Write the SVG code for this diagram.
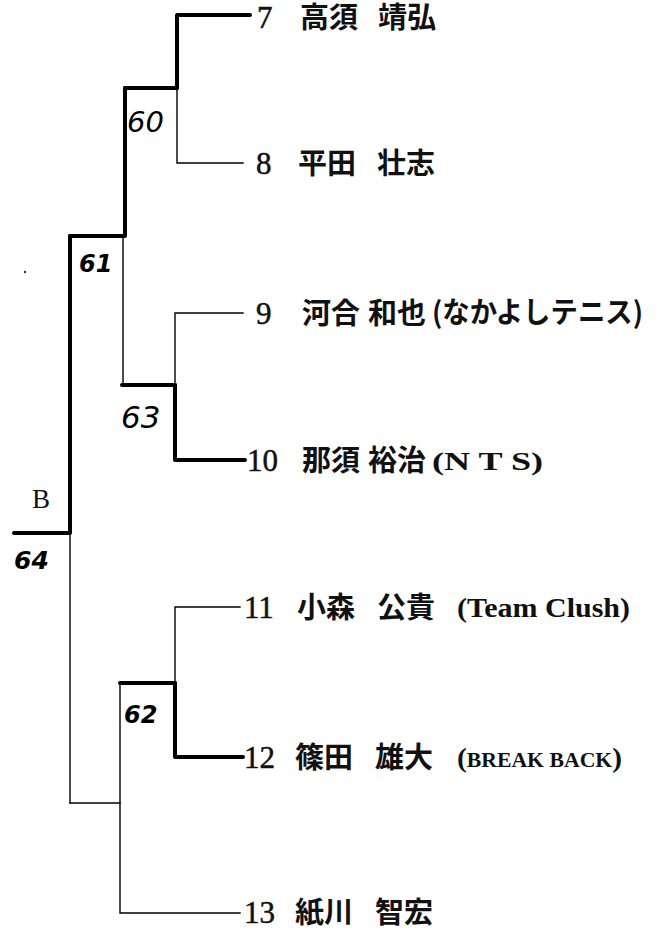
<svg xmlns="http://www.w3.org/2000/svg" width="661" height="934" viewBox="0 0 661 934">
<style>
.thick{stroke:#000;stroke-width:4;fill:none;stroke-linecap:round;stroke-linejoin:round}
.thin{stroke:#000;stroke-width:1.4;fill:none;stroke-linecap:square}
.num{font-family:"Liberation Serif",serif;font-size:31px;fill:#111;stroke:#111;stroke-width:0.5}
.jp{font-family:"Noto Sans CJK JP","Noto Sans CJK SC",sans-serif;font-size:29px;font-weight:700;fill:#111}
.lat{font-family:"Liberation Serif","Noto Sans CJK JP",serif;font-weight:700;fill:#111}
.hand{font-family:"DejaVu Sans",sans-serif;font-style:italic;fill:#000}
</style>
<rect x="0" y="0" width="661" height="934" fill="#fff"/>
<g id="connectors">
  <path class="thick" d="M250,15 H177 V88"/>
  <path class="thin" d="M177,88 V163 H243"/>
  <path class="thick" d="M177,88 H125"/>
  <path class="thin" d="M243,313 H175 V385"/>
  <path class="thick" d="M175,385 V460 H245"/>
  <path class="thick" d="M175,385 H122"/>
  <path class="thick" d="M125,88 V236 H70"/>
  <path class="thin" d="M123,236 V385"/>
  <path class="thin" d="M240,607 H175 V683"/>
  <path class="thick" d="M175,683 V757 H243"/>
  <path class="thick" d="M175,683 H120"/>
  <path class="thin" d="M120,683 V913 H240"/>
  <path class="thin" d="M120,803 H70"/>
  <path class="thick" d="M70,236 V533 H14"/>
  <path class="thin" d="M70,533 V803"/>
</g>
<g id="scores">
  <text class="hand" x="127" y="132" font-size="29">60</text>
  <text class="hand" x="79" y="272" font-size="24" font-weight="700">61</text>
  <text class="hand" x="121" y="428" font-size="31">63</text>
  <text class="hand" x="124" y="723" font-size="24" font-weight="700">62</text>
  <text class="hand" x="14" y="569" font-size="25" font-weight="700">64</text>
  <circle cx="25" cy="272" r="1.2" fill="#333"/>
</g>
<g id="label-B">
  <text x="32" y="508" font-family="Liberation Serif,serif" font-size="27" fill="#111">B</text>
</g>
<g id="p7">
  <text class="num" x="257" y="28">7</text>
  <text class="jp" x="300" y="28">高須</text>
  <text class="jp" x="378" y="28">靖弘</text>
</g>
<g id="p8">
  <text class="num" x="256" y="174">8</text>
  <text class="jp" x="298" y="174">平田</text>
  <text class="jp" x="377" y="174">壮志</text>
</g>
<g id="p9">
  <text class="num" x="256" y="324">9</text>
  <text class="jp" x="302" y="324">河合</text>
  <text class="jp" x="368" y="324">和也</text>
  <text class="jp" x="432" y="323" font-size="25" font-weight="400" textLength="211" lengthAdjust="spacingAndGlyphs">(なかよしテニス)</text>
</g>
<g id="p10">
  <text class="num" x="247" y="471">10</text>
  <text class="jp" x="302" y="471">那須</text>
  <text class="jp" x="368" y="471">裕治</text>
  <text class="lat" x="432" y="470" font-size="26" font-weight="400" textLength="111" lengthAdjust="spacingAndGlyphs">(N T S)</text>
</g>
<g id="p11">
  <text class="num" x="244" y="618">11</text>
  <text class="jp" x="297" y="618">小森</text>
  <text class="jp" x="377" y="618">公貴</text>
  <text class="lat" x="457" y="617" font-size="28" textLength="173" lengthAdjust="spacingAndGlyphs">(Team Clush)</text>
</g>
<g id="p12">
  <text class="num" x="244" y="768">12</text>
  <text class="jp" x="295" y="768">篠田</text>
  <text class="jp" x="375" y="768">雄大</text>
  <text class="lat" x="457" y="767" font-size="27" textLength="165" lengthAdjust="spacingAndGlyphs">(<tspan font-size="20">BREAK BACK</tspan>)</text>
</g>
<g id="p13">
  <text class="num" x="244" y="923">13</text>
  <text class="jp" x="295" y="923">紙川</text>
  <text class="jp" x="375" y="923">智宏</text>
</g>
</svg>
